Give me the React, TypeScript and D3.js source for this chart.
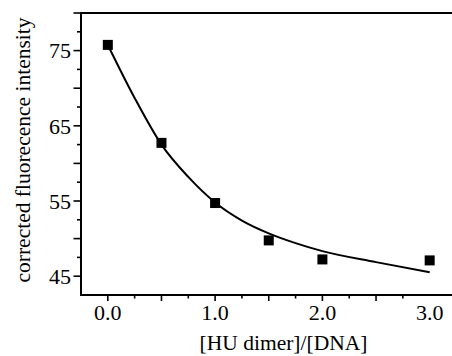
import React from "react";
import * as d3 from "d3";

const ratioX = [0, 0.5, 1.0, 1.5, 2.0, 3.0];
const intensity = [75.76, 62.73, 54.73, 49.76, 47.23, 47.1];

const fitX = [0, 0.25, 0.5, 0.75, 1.0, 1.25, 1.5, 1.75, 2.0, 2.5, 3.0];
const fitY = [75.76, 68.7, 62.5, 58.2, 54.8, 52.4, 50.7, 49.4, 48.33, 46.87, 45.53];

const xTickLabels = ["0.0", "1.0", "2.0", "3.0"];
const xTickValues = [0, 1, 2, 3];
const yTickValues = [45, 55, 65, 75];

const W = 452;
const H = 356;
const FONT = "Liberation Serif, Times New Roman, serif";

export default function App() {
  const x = d3.scaleLinear().domain([-0.25, 3.25]).range([81, 456.5]);
  const y = d3.scaleLinear().domain([42.5, 80]).range([295, 13]);

  const line = d3
    .line<number>()
    .x((_, i) => x(fitX[i]))
    .y((d) => y(d))
    .curve(d3.curveMonotoneX);

  const xMinor = d3.range(0, 13).map((i) => -0.25 + i * 0.25).filter((v) => v > -0.25);
  const yMinor = d3.range(0, 16).map((i) => 42.5 + i * 2.5).filter((v) => v > 42.5);

  const x0 = x(-0.25);
  const y0 = y(42.5);
  const yTop = y(80);

  return (
    <svg
      width={W}
      height={H}
      style={{ position: "absolute", left: 0, top: 0, background: "#fff", fontFamily: FONT }}
    >
      <rect x={0} y={0} width={W} height={H} fill="#fff" />
      {/* axes */}
      <line x1={x0} x2={W} y1={yTop} y2={yTop} stroke="#000" strokeWidth={2} />
      <line x1={x0} x2={x0} y1={yTop - 1} y2={y0 + 1} stroke="#000" strokeWidth={2} />
      <line x1={x0 - 1} x2={W} y1={y0} y2={y0} stroke="#000" strokeWidth={2} />

      {/* y ticks */}
      {yMinor.map((v) => {
        const major = Math.abs(v % 5) < 1e-6;
        return (
          <line
            key={"yt" + v}
            x1={x0}
            x2={x0 - (major ? 7.5 : 4)}
            y1={y(v)}
            y2={y(v)}
            stroke="#000"
            strokeWidth={1.6}
          />
        );
      })}
      {yTickValues.map((v) => (
        <text key={"yl" + v} x={71} y={y(v)} dy="0.35em" textAnchor="end" fontSize={22}>
          {v}
        </text>
      ))}

      {/* x ticks */}
      {xMinor.map((v) => {
        const major = Math.abs((v * 2) % 1) < 1e-6;
        return (
          <line
            key={"xt" + v}
            x1={x(v)}
            x2={x(v)}
            y1={y0}
            y2={y0 + (major ? 6 : 3.5)}
            stroke="#000"
            strokeWidth={1.6}
          />
        );
      })}
      {xTickValues.map((v, i) => (
        <text key={"xl" + v} x={x(v)} y={320} textAnchor="middle" fontSize={22}>
          {xTickLabels[i]}
        </text>
      ))}

      {/* titles */}
      <text x={283.5} y={350} textAnchor="middle" fontSize={21.5}>
        [HU dimer]/[DNA]
      </text>
      <text
        transform={`translate(30,150) rotate(-90)`}
        textAnchor="middle"
        fontSize={21.5}
      >
        corrected fluorecence intensity
      </text>

      {/* fit curve */}
      <path d={line(fitY) || ""} fill="none" stroke="#000" strokeWidth={2} />

      {/* data points */}
      {ratioX.map((v, i) => (
        <rect
          key={"p" + i}
          x={x(v) - 5}
          y={y(intensity[i]) - 5}
          width={10}
          height={10}
          fill="#000"
        />
      ))}
    </svg>
  );
}
